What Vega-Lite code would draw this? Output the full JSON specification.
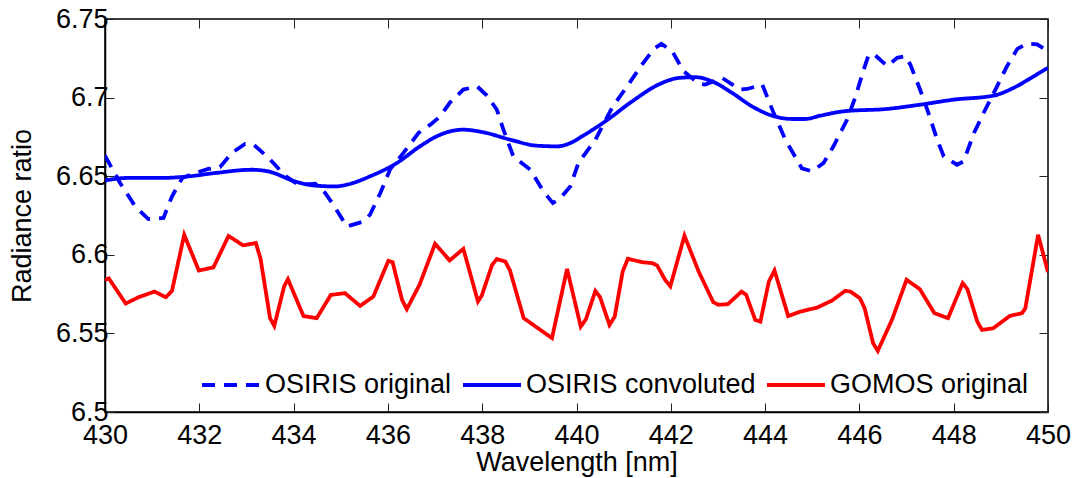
{
  "$schema": "https://vega.github.io/schema/vega-lite/v6.json",
  "width": 943,
  "height": 393,
  "autosize": {"type": "none"},
  "padding": {"left": 105, "top": 19, "right": 25, "bottom": 66},
  "background": "white",
  "config": {
    "font": "Liberation Sans",
    "view": {"stroke": "black", "strokeWidth": 1.5},
    "axis": {
      "grid": false,
      "domainColor": "black",
      "domainWidth": 1.5,
      "tickColor": "#222",
      "tickWidth": 1,
      "tickSize": -9,
      "labelFontSize": 27,
      "labelColor": "black",
      "labelFont": "Liberation Sans",
      "titleFontSize": 27,
      "titleFontWeight": "normal",
      "titleColor": "black",
      "titleFont": "Liberation Sans"
    },
    "legend": {
      "labelFontSize": 27,
      "labelFont": "Liberation Sans",
      "labelColor": "black",
      "labelLimit": 0
    }
  },
  "datasets": {
    "orig": [
      {"series": "OSIRIS original", "w": 430.0, "r": 6.663},
      {"series": "OSIRIS original", "w": 430.32, "r": 6.6457},
      {"series": "OSIRIS original", "w": 430.64, "r": 6.6308},
      {"series": "OSIRIS original", "w": 430.92, "r": 6.6227},
      {"series": "OSIRIS original", "w": 431.24, "r": 6.6234},
      {"series": "OSIRIS original", "w": 431.42, "r": 6.6371},
      {"series": "OSIRIS original", "w": 431.64, "r": 6.6489},
      {"series": "OSIRIS original", "w": 431.91, "r": 6.652},
      {"series": "OSIRIS original", "w": 432.19, "r": 6.6546},
      {"series": "OSIRIS original", "w": 432.44, "r": 6.6559},
      {"series": "OSIRIS original", "w": 432.69, "r": 6.6648},
      {"series": "OSIRIS original", "w": 432.97, "r": 6.6705},
      {"series": "OSIRIS original", "w": 433.15, "r": 6.6701},
      {"series": "OSIRIS original", "w": 433.47, "r": 6.6616},
      {"series": "OSIRIS original", "w": 433.82, "r": 6.6503},
      {"series": "OSIRIS original", "w": 434.1, "r": 6.6446},
      {"series": "OSIRIS original", "w": 434.46, "r": 6.6452},
      {"series": "OSIRIS original", "w": 434.67, "r": 6.6393},
      {"series": "OSIRIS original", "w": 434.86, "r": 6.631},
      {"series": "OSIRIS original", "w": 435.13, "r": 6.618},
      {"series": "OSIRIS original", "w": 435.48, "r": 6.6212},
      {"series": "OSIRIS original", "w": 435.62, "r": 6.6255},
      {"series": "OSIRIS original", "w": 435.84, "r": 6.6393},
      {"series": "OSIRIS original", "w": 436.05, "r": 6.6546},
      {"series": "OSIRIS original", "w": 436.33, "r": 6.6648},
      {"series": "OSIRIS original", "w": 436.65, "r": 6.6775},
      {"series": "OSIRIS original", "w": 436.9, "r": 6.6828},
      {"series": "OSIRIS original", "w": 437.11, "r": 6.6881},
      {"series": "OSIRIS original", "w": 437.32, "r": 6.697},
      {"series": "OSIRIS original", "w": 437.6, "r": 6.7051},
      {"series": "OSIRIS original", "w": 437.89, "r": 6.7072},
      {"series": "OSIRIS original", "w": 438.1, "r": 6.7013},
      {"series": "OSIRIS original", "w": 438.31, "r": 6.6924},
      {"series": "OSIRIS original", "w": 438.45, "r": 6.6796},
      {"series": "OSIRIS original", "w": 438.66, "r": 6.6626},
      {"series": "OSIRIS original", "w": 439.02, "r": 6.6541},
      {"series": "OSIRIS original", "w": 439.3, "r": 6.6403},
      {"series": "OSIRIS original", "w": 439.5, "r": 6.6329},
      {"series": "OSIRIS original", "w": 439.66, "r": 6.6361},
      {"series": "OSIRIS original", "w": 439.87, "r": 6.6435},
      {"series": "OSIRIS original", "w": 440.04, "r": 6.6584},
      {"series": "OSIRIS original", "w": 440.4, "r": 6.6732},
      {"series": "OSIRIS original", "w": 440.75, "r": 6.6934},
      {"series": "OSIRIS original", "w": 441.1, "r": 6.7083},
      {"series": "OSIRIS original", "w": 441.39, "r": 6.721},
      {"series": "OSIRIS original", "w": 441.64, "r": 6.731},
      {"series": "OSIRIS original", "w": 441.8, "r": 6.7342},
      {"series": "OSIRIS original", "w": 442.03, "r": 6.7295},
      {"series": "OSIRIS original", "w": 442.27, "r": 6.7168},
      {"series": "OSIRIS original", "w": 442.59, "r": 6.7089},
      {"series": "OSIRIS original", "w": 442.73, "r": 6.7083},
      {"series": "OSIRIS original", "w": 443.09, "r": 6.7125},
      {"series": "OSIRIS original", "w": 443.47, "r": 6.7051},
      {"series": "OSIRIS original", "w": 443.62, "r": 6.7055},
      {"series": "OSIRIS original", "w": 443.94, "r": 6.7083},
      {"series": "OSIRIS original", "w": 444.18, "r": 6.6903},
      {"series": "OSIRIS original", "w": 444.43, "r": 6.6732},
      {"series": "OSIRIS original", "w": 444.78, "r": 6.655},
      {"series": "OSIRIS original", "w": 445.0, "r": 6.6531},
      {"series": "OSIRIS original", "w": 445.24, "r": 6.6584},
      {"series": "OSIRIS original", "w": 445.45, "r": 6.669},
      {"series": "OSIRIS original", "w": 445.74, "r": 6.686},
      {"series": "OSIRIS original", "w": 445.92, "r": 6.7008},
      {"series": "OSIRIS original", "w": 446.09, "r": 6.7178},
      {"series": "OSIRIS original", "w": 446.2, "r": 6.7274},
      {"series": "OSIRIS original", "w": 446.34, "r": 6.7268},
      {"series": "OSIRIS original", "w": 446.59, "r": 6.72},
      {"series": "OSIRIS original", "w": 446.8, "r": 6.7253},
      {"series": "OSIRIS original", "w": 446.98, "r": 6.7263},
      {"series": "OSIRIS original", "w": 447.08, "r": 6.721},
      {"series": "OSIRIS original", "w": 447.26, "r": 6.7072},
      {"series": "OSIRIS original", "w": 447.44, "r": 6.6924},
      {"series": "OSIRIS original", "w": 447.65, "r": 6.6732},
      {"series": "OSIRIS original", "w": 447.79, "r": 6.6626},
      {"series": "OSIRIS original", "w": 448.07, "r": 6.6573},
      {"series": "OSIRIS original", "w": 448.21, "r": 6.6594},
      {"series": "OSIRIS original", "w": 448.43, "r": 6.6775},
      {"series": "OSIRIS original", "w": 448.67, "r": 6.6924},
      {"series": "OSIRIS original", "w": 448.92, "r": 6.7072},
      {"series": "OSIRIS original", "w": 449.13, "r": 6.72},
      {"series": "OSIRIS original", "w": 449.35, "r": 6.731},
      {"series": "OSIRIS original", "w": 449.56, "r": 6.7344},
      {"series": "OSIRIS original", "w": 449.77, "r": 6.7338},
      {"series": "OSIRIS original", "w": 450.0, "r": 6.7295}
    ],
    "conv": [
      {"series": "OSIRIS convoluted", "w": 430.0, "r": 6.6473},
      {"series": "OSIRIS convoluted", "w": 430.49, "r": 6.6489},
      {"series": "OSIRIS convoluted", "w": 431.2, "r": 6.6489},
      {"series": "OSIRIS convoluted", "w": 431.77, "r": 6.6499},
      {"series": "OSIRIS convoluted", "w": 432.33, "r": 6.652},
      {"series": "OSIRIS convoluted", "w": 433.11, "r": 6.6541},
      {"series": "OSIRIS convoluted", "w": 433.47, "r": 6.653},
      {"series": "OSIRIS convoluted", "w": 434.03, "r": 6.6467},
      {"series": "OSIRIS convoluted", "w": 434.46, "r": 6.644},
      {"series": "OSIRIS convoluted", "w": 434.88, "r": 6.6435},
      {"series": "OSIRIS convoluted", "w": 435.13, "r": 6.6446},
      {"series": "OSIRIS convoluted", "w": 435.62, "r": 6.6499},
      {"series": "OSIRIS convoluted", "w": 436.19, "r": 6.6584},
      {"series": "OSIRIS convoluted", "w": 436.68, "r": 6.669},
      {"series": "OSIRIS convoluted", "w": 437.11, "r": 6.6764},
      {"series": "OSIRIS convoluted", "w": 437.6, "r": 6.6796},
      {"series": "OSIRIS convoluted", "w": 438.03, "r": 6.6779},
      {"series": "OSIRIS convoluted", "w": 438.59, "r": 6.6733},
      {"series": "OSIRIS convoluted", "w": 439.16, "r": 6.6694},
      {"series": "OSIRIS convoluted", "w": 439.59, "r": 6.669},
      {"series": "OSIRIS convoluted", "w": 439.87, "r": 6.6711},
      {"series": "OSIRIS convoluted", "w": 440.12, "r": 6.6754},
      {"series": "OSIRIS convoluted", "w": 440.61, "r": 6.6849},
      {"series": "OSIRIS convoluted", "w": 441.18, "r": 6.6976},
      {"series": "OSIRIS convoluted", "w": 441.74, "r": 6.7083},
      {"series": "OSIRIS convoluted", "w": 442.17, "r": 6.7125},
      {"series": "OSIRIS convoluted", "w": 442.52, "r": 6.713},
      {"series": "OSIRIS convoluted", "w": 442.87, "r": 6.7104},
      {"series": "OSIRIS convoluted", "w": 443.3, "r": 6.703},
      {"series": "OSIRIS convoluted", "w": 443.72, "r": 6.6945},
      {"series": "OSIRIS convoluted", "w": 444.15, "r": 6.6885},
      {"series": "OSIRIS convoluted", "w": 444.57, "r": 6.6864},
      {"series": "OSIRIS convoluted", "w": 444.85, "r": 6.6864},
      {"series": "OSIRIS convoluted", "w": 445.17, "r": 6.6885},
      {"series": "OSIRIS convoluted", "w": 445.67, "r": 6.6913},
      {"series": "OSIRIS convoluted", "w": 446.59, "r": 6.6928},
      {"series": "OSIRIS convoluted", "w": 447.29, "r": 6.6955},
      {"series": "OSIRIS convoluted", "w": 448.0, "r": 6.6987},
      {"series": "OSIRIS convoluted", "w": 448.85, "r": 6.7013},
      {"series": "OSIRIS convoluted", "w": 449.27, "r": 6.7062},
      {"series": "OSIRIS convoluted", "w": 449.7, "r": 6.7136},
      {"series": "OSIRIS convoluted", "w": 450.0, "r": 6.719}
    ],
    "gomos": [
      {"series": "GOMOS original", "w": 430.0, "r": 6.584},
      {"series": "GOMOS original", "w": 430.08, "r": 6.585},
      {"series": "GOMOS original", "w": 430.44, "r": 6.569},
      {"series": "GOMOS original", "w": 430.71, "r": 6.573},
      {"series": "GOMOS original", "w": 431.05, "r": 6.5766},
      {"series": "GOMOS original", "w": 431.29, "r": 6.573},
      {"series": "GOMOS original", "w": 431.42, "r": 6.577},
      {"series": "GOMOS original", "w": 431.68, "r": 6.6127},
      {"series": "GOMOS original", "w": 431.99, "r": 6.59},
      {"series": "GOMOS original", "w": 432.3, "r": 6.592},
      {"series": "GOMOS original", "w": 432.62, "r": 6.612},
      {"series": "GOMOS original", "w": 432.93, "r": 6.606},
      {"series": "GOMOS original", "w": 433.2, "r": 6.6075},
      {"series": "GOMOS original", "w": 433.3, "r": 6.5973},
      {"series": "GOMOS original", "w": 433.5, "r": 6.5597},
      {"series": "GOMOS original", "w": 433.59, "r": 6.5548},
      {"series": "GOMOS original", "w": 433.8, "r": 6.58},
      {"series": "GOMOS original", "w": 433.88, "r": 6.5845},
      {"series": "GOMOS original", "w": 434.21, "r": 6.561},
      {"series": "GOMOS original", "w": 434.49, "r": 6.5597},
      {"series": "GOMOS original", "w": 434.79, "r": 6.5745},
      {"series": "GOMOS original", "w": 435.09, "r": 6.5756},
      {"series": "GOMOS original", "w": 435.41, "r": 6.5675},
      {"series": "GOMOS original", "w": 435.69, "r": 6.5734},
      {"series": "GOMOS original", "w": 436.01, "r": 6.5962},
      {"series": "GOMOS original", "w": 436.1, "r": 6.5953},
      {"series": "GOMOS original", "w": 436.3, "r": 6.5713},
      {"series": "GOMOS original", "w": 436.4, "r": 6.5654},
      {"series": "GOMOS original", "w": 436.67, "r": 6.5809},
      {"series": "GOMOS original", "w": 437.0, "r": 6.607},
      {"series": "GOMOS original", "w": 437.31, "r": 6.5964},
      {"series": "GOMOS original", "w": 437.6, "r": 6.6038},
      {"series": "GOMOS original", "w": 437.91, "r": 6.5703},
      {"series": "GOMOS original", "w": 437.99, "r": 6.574},
      {"series": "GOMOS original", "w": 438.21, "r": 6.5936},
      {"series": "GOMOS original", "w": 438.31, "r": 6.5973},
      {"series": "GOMOS original", "w": 438.49, "r": 6.5957},
      {"series": "GOMOS original", "w": 438.59, "r": 6.59},
      {"series": "GOMOS original", "w": 438.88, "r": 6.5597},
      {"series": "GOMOS original", "w": 439.48, "r": 6.547},
      {"series": "GOMOS original", "w": 439.8, "r": 6.591},
      {"series": "GOMOS original", "w": 440.09, "r": 6.5543},
      {"series": "GOMOS original", "w": 440.2, "r": 6.559},
      {"series": "GOMOS original", "w": 440.4, "r": 6.577},
      {"series": "GOMOS original", "w": 440.5, "r": 6.573},
      {"series": "GOMOS original", "w": 440.7, "r": 6.5554},
      {"series": "GOMOS original", "w": 440.81, "r": 6.5607},
      {"series": "GOMOS original", "w": 440.98, "r": 6.5894},
      {"series": "GOMOS original", "w": 441.09, "r": 6.5975},
      {"series": "GOMOS original", "w": 441.39, "r": 6.5953},
      {"series": "GOMOS original", "w": 441.61, "r": 6.5947},
      {"series": "GOMOS original", "w": 441.71, "r": 6.5932},
      {"series": "GOMOS original", "w": 441.88, "r": 6.584},
      {"series": "GOMOS original", "w": 441.99, "r": 6.58},
      {"series": "GOMOS original", "w": 442.29, "r": 6.6121},
      {"series": "GOMOS original", "w": 442.59, "r": 6.5894},
      {"series": "GOMOS original", "w": 442.9, "r": 6.5699},
      {"series": "GOMOS original", "w": 443.01, "r": 6.5682},
      {"series": "GOMOS original", "w": 443.21, "r": 6.5686},
      {"series": "GOMOS original", "w": 443.5, "r": 6.5766},
      {"series": "GOMOS original", "w": 443.6, "r": 6.5745},
      {"series": "GOMOS original", "w": 443.79, "r": 6.5586},
      {"series": "GOMOS original", "w": 443.9, "r": 6.5575},
      {"series": "GOMOS original", "w": 444.08, "r": 6.583},
      {"series": "GOMOS original", "w": 444.2, "r": 6.59},
      {"series": "GOMOS original", "w": 444.49, "r": 6.561},
      {"series": "GOMOS original", "w": 444.75, "r": 6.5639},
      {"series": "GOMOS original", "w": 445.1, "r": 6.5664},
      {"series": "GOMOS original", "w": 445.42, "r": 6.5709},
      {"series": "GOMOS original", "w": 445.7, "r": 6.5771},
      {"series": "GOMOS original", "w": 445.81, "r": 6.5766},
      {"series": "GOMOS original", "w": 446.01, "r": 6.5724},
      {"series": "GOMOS original", "w": 446.11, "r": 6.5661},
      {"series": "GOMOS original", "w": 446.29, "r": 6.5438},
      {"series": "GOMOS original", "w": 446.39, "r": 6.5389},
      {"series": "GOMOS original", "w": 446.69, "r": 6.5586},
      {"series": "GOMOS original", "w": 447.0, "r": 6.5841},
      {"series": "GOMOS original", "w": 447.28, "r": 6.5782},
      {"series": "GOMOS original", "w": 447.59, "r": 6.5629},
      {"series": "GOMOS original", "w": 447.88, "r": 6.5597},
      {"series": "GOMOS original", "w": 448.19, "r": 6.582},
      {"series": "GOMOS original", "w": 448.29, "r": 6.5782},
      {"series": "GOMOS original", "w": 448.5, "r": 6.5575},
      {"series": "GOMOS original", "w": 448.6, "r": 6.5522},
      {"series": "GOMOS original", "w": 448.84, "r": 6.5533},
      {"series": "GOMOS original", "w": 449.19, "r": 6.5611},
      {"series": "GOMOS original", "w": 449.45, "r": 6.5629},
      {"series": "GOMOS original", "w": 449.52, "r": 6.5661},
      {"series": "GOMOS original", "w": 449.79, "r": 6.6127},
      {"series": "GOMOS original", "w": 450.0, "r": 6.589}
    ]
  },
  "resolve": {"axis": {"x": "independent", "y": "independent"}},
  "layer": [
    {
      "data": {"name": "orig"},
      "mark": {"type": "line", "strokeWidth": 3.8, "clip": true},
      "encoding": {
        "x": {"field": "w", "type": "quantitative",
              "scale": {"domain": [430, 450], "nice": false, "zero": false},
              "axis": {"orient": "bottom", "values": [430, 432, 434, 436, 438, 440, 442, 444, 446, 448, 450],
                       "format": "d", "title": "Wavelength [nm]", "labelPadding": 19, "titlePadding": 1, "labelFlush": false}},
        "y": {"field": "r", "type": "quantitative",
              "scale": {"domain": [6.5, 6.75], "nice": false, "zero": false},
              "axis": {"orient": "left", "values": [6.5, 6.55, 6.6, 6.65, 6.7, 6.75],
                       "format": ".2~f", "title": "Radiance ratio", "labelPadding": 6, "titlePadding": 19}},
        "color": {"field": "series", "type": "nominal",
                  "scale": {"domain": ["OSIRIS original", "OSIRIS convoluted", "GOMOS original"], "range": ["#0000ff", "#0000ff", "#ff0000"]},
                  "legend": {"orient": "none", "direction": "horizontal", "legendX": 95, "legendY": 335, "title": null,
                             "symbolType": "stroke", "symbolSize": 3364, "symbolStrokeWidth": 3.8, "labelOffset": 3,
                             "columnPadding": 3, "padding": 0, "labelFontSize": 27, "labelLimit": 0}},
        "strokeDash": {"field": "series", "type": "nominal",
                       "scale": {"domain": ["OSIRIS original", "OSIRIS convoluted", "GOMOS original"], "range": [[13, 9], [1, 0], [1, 0]]}},
        "order": {"field": "w", "type": "quantitative"}
      }
    },
    {
      "data": {"name": "conv"},
      "mark": {"type": "line", "strokeWidth": 3.8, "interpolate": "monotone", "clip": true},
      "encoding": {
        "x": {"field": "w", "type": "quantitative",
              "axis": {"orient": "top", "values": [430, 432, 434, 436, 438, 440, 442, 444, 446, 448, 450], "labels": false, "title": null, "domain": false}},
        "y": {"field": "r", "type": "quantitative",
              "axis": {"orient": "right", "values": [6.5, 6.55, 6.6, 6.65, 6.7, 6.75], "labels": false, "title": null, "domain": false}},
        "color": {"field": "series", "type": "nominal"},
        "strokeDash": {"field": "series", "type": "nominal"},
        "order": {"field": "w", "type": "quantitative"}
      }
    },
    {
      "data": {"name": "gomos"},
      "mark": {"type": "line", "strokeWidth": 3.8, "clip": true},
      "encoding": {
        "x": {"field": "w", "type": "quantitative", "axis": null},
        "y": {"field": "r", "type": "quantitative", "axis": null},
        "color": {"field": "series", "type": "nominal"},
        "strokeDash": {"field": "series", "type": "nominal"},
        "order": {"field": "w", "type": "quantitative"}
      }
    }
  ]
}
